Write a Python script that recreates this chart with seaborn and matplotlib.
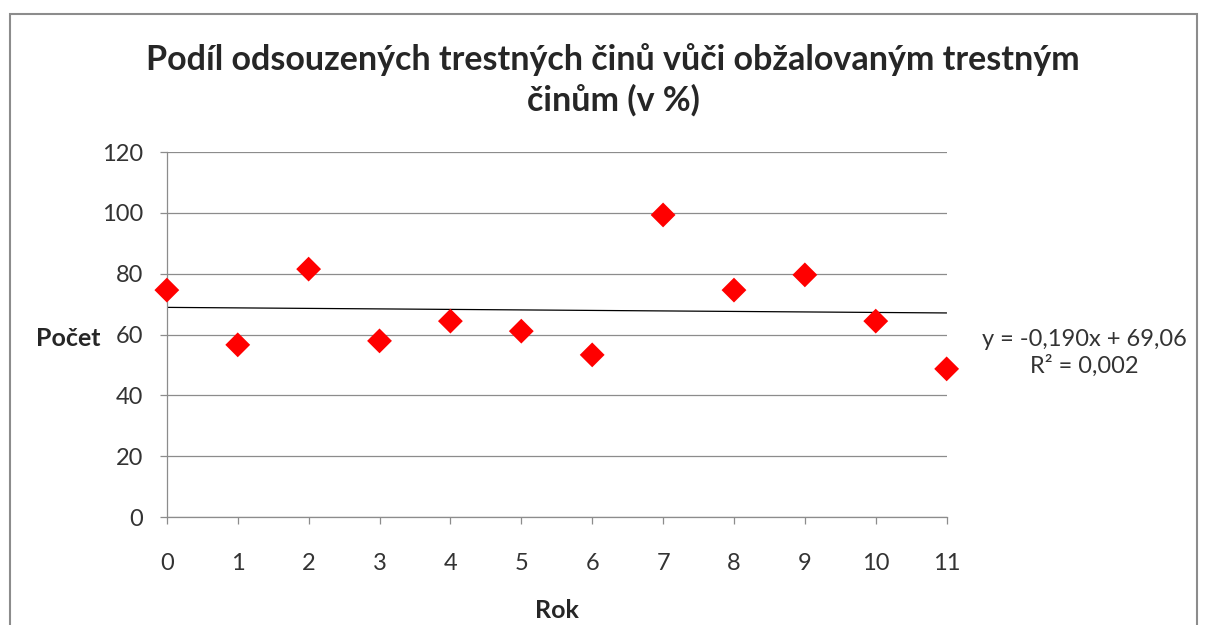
import numpy as np
import pandas as pd
import matplotlib.pyplot as plt
import seaborn as sns
from matplotlib.patches import Rectangle

# data
rok = [0, 1, 2, 3, 4, 5, 6, 7, 8, 9, 10, 11]
pocet = [74.6, 56.6, 81.5, 57.9, 64.4, 61.1, 53.3, 99.3, 74.6, 79.6, 64.4, 48.7]
y_ticks = [0, 20, 40, 60, 80, 100, 120]
rovnice = "y = -0,190x + 69,06\nR² = 0,002"

sns.set_style("white")
plt.rcParams["font.family"] = ["Lato", "DejaVu Sans"]

df = pd.DataFrame({"Rok": rok, "Počet": pocet})

fig = plt.figure(figsize=(12.09, 6.25), dpi=100)
ax = fig.add_axes([0.138, 0.1728, 0.645, 0.584])

# trend line (linear fit)
sns.regplot(data=df, x="Rok", y="Počet", ax=ax, scatter=False, ci=None,
            line_kws={"color": "black", "linewidth": 0.9})
sns.scatterplot(data=df, x="Rok", y="Počet", ax=ax, marker="D", s=160,
                color="#ff0000", edgecolor="none", zorder=5, clip_on=False)

ax.set_xlim(0, 11)
ax.set_ylim(0, 120)
ax.set_xticks(rok)
ax.set_yticks(y_ticks)
ax.yaxis.grid(True, color="#8c8c8c", linewidth=0.9)
ax.set_axisbelow(True)
for s in ["top", "right"]:
    ax.spines[s].set_visible(False)
for s in ["left", "bottom"]:
    ax.spines[s].set_color("#8c8c8c")
    ax.spines[s].set_linewidth(0.9)
ax.tick_params(axis="both", length=5, width=0.9, color="#8c8c8c",
               labelsize=17, labelcolor="#333333", direction="out",
               bottom=True, left=True)
ax.tick_params(axis="x", pad=21)
ax.tick_params(axis="y", pad=12)

ax.set_xlabel("Rok", fontsize=18, fontweight="bold", va="center")
ax.xaxis.set_label_coords(0.5, -0.255)
ax.set_ylabel("Počet", fontsize=18, fontweight="bold", rotation=0,
              ha="center", va="center")
ax.yaxis.set_label_coords(-0.127, 0.49)

fig.text(0.507, 0.872, "Podíl odsouzených trestných činů vůči obžalovaným trestným\nčinům (v %)",
         ha="center", va="center", fontsize=24.5, fontweight="bold",
         linespacing=1.3)
fig.text(0.897, 0.435, rovnice, ha="center", va="center", fontsize=17,
         color="#333333", linespacing=1.27)

# chart area border
fig.patches.append(Rectangle((0.008, -0.01), 0.982, 0.988, transform=fig.transFigure,
                             fill=False, edgecolor="#8c8c8c", linewidth=1.5))

fig.savefig("out.png", dpi=100)
